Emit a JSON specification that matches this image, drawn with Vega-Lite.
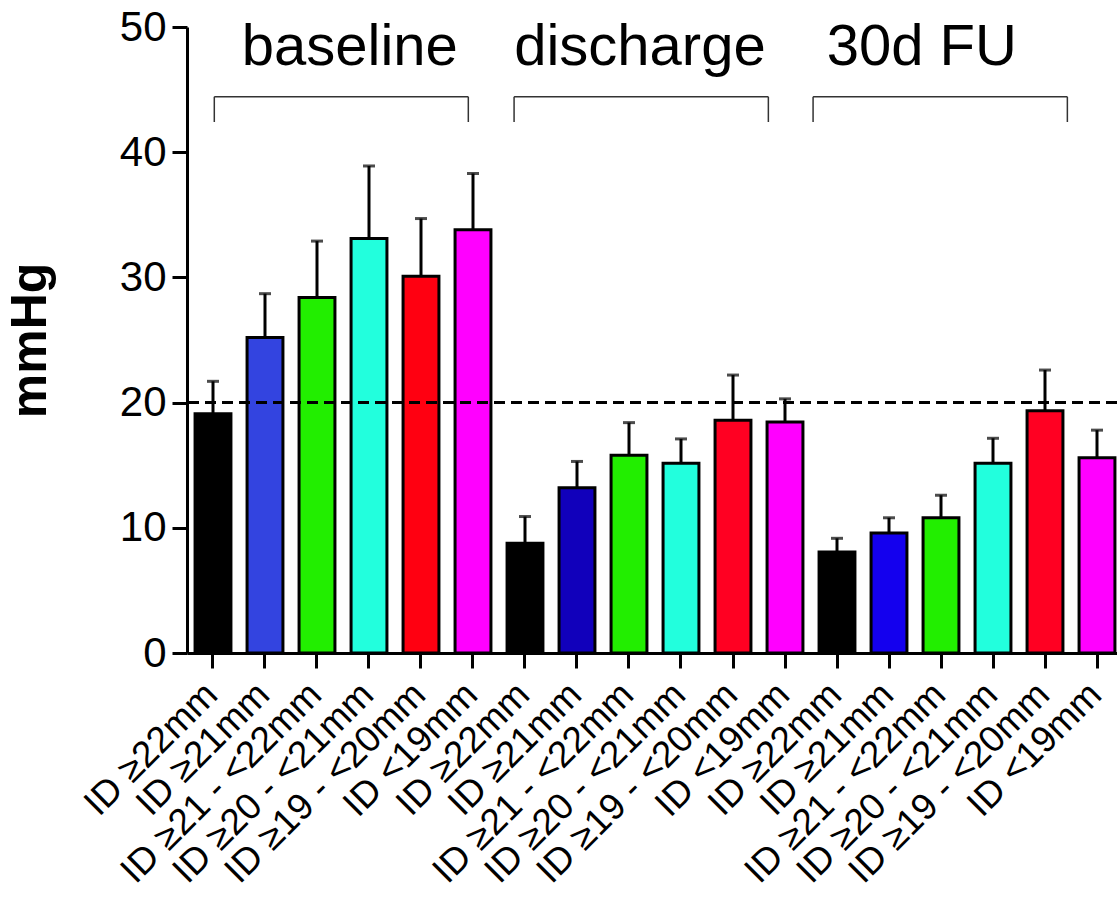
{
  "$schema": "https://vega.github.io/schema/vega-lite/v6.json",
  "width": 930,
  "height": 626,
  "autosize": "none",
  "padding": {"left": 187, "top": 27, "right": 0, "bottom": 247},
  "config": {"view": {"stroke": null}, "font": "Liberation Sans"},
  "datasets": {
    "bars": [
      {"key": "baseline|ID ≥22mm", "value": 19.1, "upper": 21.7},
      {"key": "baseline|ID ≥21mm", "value": 25.2, "upper": 28.7},
      {"key": "baseline|ID ≥21 - <22mm", "value": 28.4, "upper": 32.9},
      {"key": "baseline|ID ≥20 - <21mm", "value": 33.1, "upper": 38.9},
      {"key": "baseline|ID ≥19 - <20mm", "value": 30.1, "upper": 34.7},
      {"key": "baseline|ID <19mm", "value": 33.8, "upper": 38.3},
      {"key": "discharge|ID ≥22mm", "value": 8.76, "upper": 10.9},
      {"key": "discharge|ID ≥21mm", "value": 13.2, "upper": 15.3},
      {"key": "discharge|ID ≥21 - <22mm", "value": 15.8, "upper": 18.4},
      {"key": "discharge|ID ≥20 - <21mm", "value": 15.15, "upper": 17.1},
      {"key": "discharge|ID ≥19 - <20mm", "value": 18.6, "upper": 22.2},
      {"key": "discharge|ID <19mm", "value": 18.45, "upper": 20.3},
      {"key": "30d FU|ID ≥22mm", "value": 8.07, "upper": 9.16},
      {"key": "30d FU|ID ≥21mm", "value": 9.58, "upper": 10.8},
      {"key": "30d FU|ID ≥21 - <22mm", "value": 10.8, "upper": 12.6},
      {"key": "30d FU|ID ≥20 - <21mm", "value": 15.15, "upper": 17.15},
      {"key": "30d FU|ID ≥19 - <20mm", "value": 19.35, "upper": 22.6},
      {"key": "30d FU|ID <19mm", "value": 15.6, "upper": 17.8}
    ],
    "groups": [
      {"phase": "baseline", "start": 0.525, "end": 5.41, "center": 3.13},
      {"phase": "discharge", "start": 6.29, "end": 11.18, "center": 8.71},
      {"phase": "30d FU", "start": 12.04, "end": 16.93, "center": 14.13}
    ],
    "threshold": [{"limit": 20}]
  },
  "layer": [
    {
      "data": {"name": "bars"},
      "encoding": {
        "x": {
          "field": "key",
          "type": "nominal",
          "sort": null,
          "scale": {"range": [0, 936], "paddingInner": 0.31, "paddingOuter": 0.155},
          "axis": {
            "title": null,
            "labelExpr": "split(datum.label, '|')[1]",
            "labelAngle": -45,
            "labelFontSize": 37,
            "labelColor": "black",
            "labelPadding": 8,
            "labelOffset": -14,
            "labelLimit": 0,
            "labelOverlap": false,
            "tickSize": 15,
            "tickWidth": 3,
            "tickColor": "black",
            "domainWidth": 3,
            "domainColor": "black"
          }
        }
      },
      "layer": [
        {
          "mark": {"type": "rule", "color": "black", "strokeWidth": 3},
          "encoding": {
            "y": {"field": "value", "type": "quantitative"},
            "y2": {"field": "upper"}
          }
        },
        {
          "mark": {"type": "tick", "color": "black", "size": 12, "thickness": 3, "orient": "horizontal"},
          "encoding": {
            "y": {"field": "upper", "type": "quantitative"}
          }
        },
        {
          "mark": {"type": "bar", "stroke": "black", "strokeWidth": 3},
          "encoding": {
            "y": {
              "field": "value",
              "type": "quantitative",
              "scale": {"domain": [0, 50], "nice": false},
              "axis": {
                "values": [0, 10, 20, 30, 40, 50],
                "grid": false,
                "title": "mmHg",
                "titleFontSize": 50,
                "titleFontWeight": "bold",
                "titleColor": "black",
                "titlePadding": 64,
                "labelFontSize": 42,
                "labelColor": "black",
                "labelPadding": 6,
                "tickSize": 15,
                "tickWidth": 3,
                "tickColor": "black",
                "domainWidth": 3,
                "domainColor": "black"
              }
            },
            "fill": {
              "field": "key",
              "type": "nominal",
              "sort": null,
              "legend": null,
              "scale": {
                "range": ["#000000", "#3344E0", "#22EE00", "#22FFDD", "#FF0011", "#FF00FF",
                          "#000000", "#1100BB", "#22EE00", "#22FFDD", "#FF0022", "#FF00FF",
                          "#000000", "#1400EE", "#22EE00", "#22FFDD", "#FF0022", "#FF00FF"]
              }
            }
          }
        }
      ]
    },
    {
      "data": {"name": "threshold"},
      "mark": {"type": "rule", "color": "black", "strokeWidth": 3, "strokeDash": [11, 6]},
      "encoding": {"y": {"field": "limit", "type": "quantitative"}}
    },
    {
      "data": {"name": "groups"},
      "layer": [
        {
          "mark": {"type": "rule", "color": "#333333", "strokeWidth": 1.5},
          "encoding": {
            "x": {"field": "start", "type": "quantitative", "scale": {"domain": [0, 18], "range": [0, 936], "nice": false, "zero": false}, "axis": null},
            "x2": {"field": "end"},
            "y": {"datum": 44.43}
          }
        },
        {
          "mark": {"type": "rule", "color": "#333333", "strokeWidth": 1.5},
          "encoding": {
            "x": {"field": "start", "type": "quantitative", "scale": {"domain": [0, 18], "range": [0, 936], "nice": false, "zero": false}, "axis": null},
            "y": {"datum": 44.43},
            "y2": {"datum": 42.41}
          }
        },
        {
          "mark": {"type": "rule", "color": "#333333", "strokeWidth": 1.5},
          "encoding": {
            "x": {"field": "end", "type": "quantitative", "scale": {"domain": [0, 18], "range": [0, 936], "nice": false, "zero": false}, "axis": null},
            "y": {"datum": 44.43},
            "y2": {"datum": 42.41}
          }
        },
        {
          "mark": {"type": "text", "fontSize": 58, "color": "black", "align": "center", "baseline": "alphabetic"},
          "encoding": {
            "x": {"field": "center", "type": "quantitative", "scale": {"domain": [0, 18], "range": [0, 936], "nice": false, "zero": false}, "axis": null},
            "y": {"datum": 46.96},
            "text": {"field": "phase"}
          }
        }
      ]
    }
  ],
  "resolve": {"scale": {"x": "independent"}}
}
